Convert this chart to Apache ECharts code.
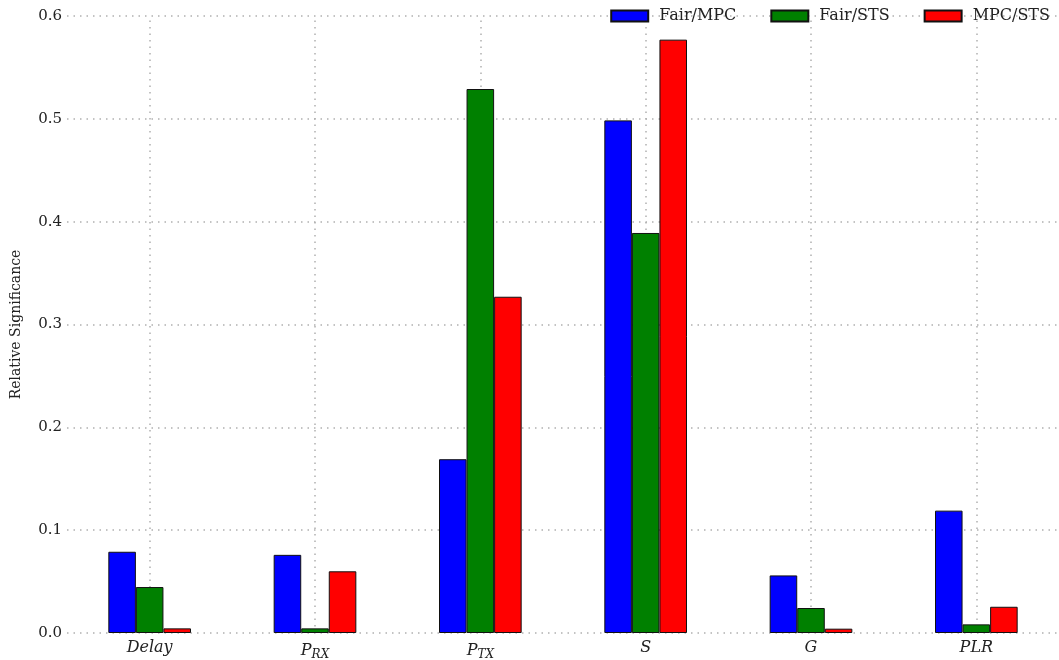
<!DOCTYPE html>
<html>
<head>
<meta charset="utf-8">
<script src="https://cdn.jsdelivr.net/npm/echarts@6/dist/echarts.min.js"></script>
<style>html,body{margin:0;padding:0;background:#fff}#c{width:1059px;height:660px}</style>
</head>
<body>
<div id="c"></div>
<script>
const categories = ['Delay', 'PRX', 'PTX', 'S', 'G', 'PLR'];
const categoryLabels = ['{i|Delay}', '{i|P}{s|RX}', '{i|P}{s|TX}', '{i|S}', '{i|G}', '{i|PLR}'];
const fairMPC = [0.079, 0.076, 0.169, 0.4985, 0.056, 0.119];
const fairSTS = [0.0447, 0.0045, 0.529, 0.389, 0.0243, 0.0084];
const mpcSTS  = [0.0045, 0.060, 0.327, 0.577, 0.0042, 0.0255];
const yTicks = [0, 0.1, 0.2, 0.3, 0.4, 0.5, 0.6];

const serif = '"DejaVu Serif", "Liberation Serif", serif';
const gridDot = { color: '#b0b0b0', type: [1.5, 5], width: 1.5 };

const chart = echarts.init(document.getElementById('c'), null, { renderer: 'canvas' });
function bar(name, data, color) {
  return {
    name, type: 'bar', data,
    barGap: '0%', barCategoryGap: '50%',
    itemStyle: { color, borderColor: '#111', borderWidth: 1 },
    emphasis: { disabled: true },
    z: 2
  };
}
chart.setOption({
  animation: false,
  grid: { left: 67, right: 0, top: 16, bottom: 27, outerBoundsMode: 'none', containLabel: false },
  legend: {
    top: 3, right: 4,
    itemWidth: 37, itemHeight: 11, itemGap: 34,
    icon: 'rect',
    textStyle: { fontFamily: serif, fontSize: 16, color: '#222', padding: [0, 0, 0, 6] },
    data: ['Fair/MPC', 'Fair/STS', 'MPC/STS']
  },
  xAxis: {
    type: 'category', data: categories,
    axisLine: { show: false }, axisTick: { show: false },
    splitLine: { show: false },
    axisLabel: {
      margin: 7,
      formatter: (v, i) => categoryLabels[i],
      rich: {
        i: { fontFamily: serif, fontStyle: 'italic', fontSize: 16, color: '#222' },
        s: { fontFamily: serif, fontStyle: 'italic', fontSize: 12, color: '#222', verticalAlign: 'bottom', padding: [9, 0, 0, 0] }
      }
    }
  },
  yAxis: {
    type: 'value', min: yTicks[0], max: yTicks[yTicks.length - 1], interval: 0.1,
    name: 'Relative Significance', nameLocation: 'middle', nameGap: 44,
    nameTextStyle: { fontFamily: serif, fontSize: 14, color: '#222' },
    axisLine: { show: false }, axisTick: { show: false },
    axisLabel: { margin: 5, fontFamily: serif, fontSize: 15, color: '#222', formatter: v => v.toFixed(1) },
    splitLine: { show: true, lineStyle: gridDot }
  },
  series: [
    {
      name: 'grid', type: 'line', data: categories.map(() => null),
      symbol: 'none', silent: true, z: 1,
      markLine: {
        silent: true, symbol: 'none', z: 1,
        label: { show: false },
        lineStyle: gridDot,
        data: categories.map(c => ({ xAxis: c }))
      }
    },
    bar('Fair/MPC', fairMPC, '#0000ff'),
    bar('Fair/STS', fairSTS, '#008000'),
    bar('MPC/STS', mpcSTS, '#ff0000')
  ]
});
</script>
</body>
</html>
